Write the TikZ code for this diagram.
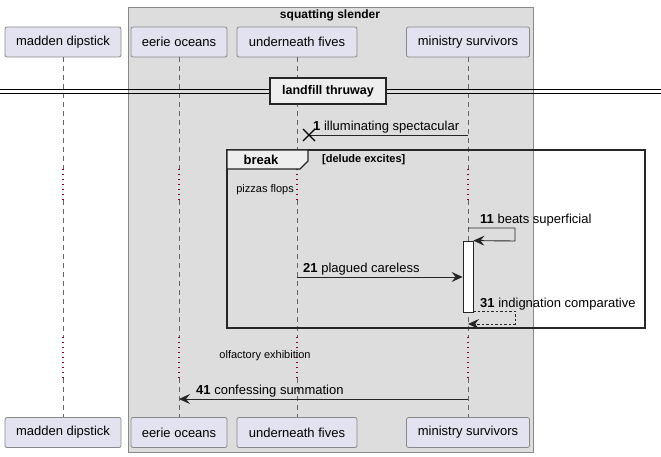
\documentclass[tikz,border=0pt]{standalone}
\usepackage{fontspec}
\setmainfont{Liberation Sans}
\usetikzlibrary{arrows.meta}
\definecolor{partfill}{HTML}{E2E2F0}
\definecolor{grpfill}{HTML}{DDDDDD}
\definecolor{tabfill}{HTML}{EEEEEE}
\definecolor{delayred}{HTML}{800030}
\definecolor{bordergray}{HTML}{888888}
\tikzset{
  part/.style={draw=bordergray, fill=partfill, rounded corners=2pt, minimum height=30pt, inner sep=0pt, font=\fontsize{13}{15}\selectfont, line width=0.8pt},
  life/.style={draw=gray!80!black, line width=0.7pt, dash pattern=on 5pt off 4pt},
  delayline/.style={draw=delayred, line width=1.3pt, dash pattern=on 1.3pt off 3.7pt},
  msg/.style={draw=black!85, line width=0.9pt, -{Stealth[length=11pt,width=10pt,inset=4pt]}},
  lbl/.style={anchor=base west, inner sep=0pt, font=\fontsize{13}{15}\selectfont},
  smalltxt/.style={inner sep=0pt, font=\fontsize{11}{13}\selectfont},
}
\begin{document}
\begin{tikzpicture}[x=1pt,y=-1pt]
\useasboundingbox (0,0) rectangle (661,457);
% group box
\draw[fill=grpfill, draw=bordergray, line width=0.8pt] (128,7) rectangle (533,452);
\node[font=\bfseries\fontsize{12}{14}\selectfont, inner sep=0pt] (grp) at (330,15) {squatting slender};
% participants top
\node[part, minimum width=116pt] (ma) at (63,42) {madden dipstick};
\node[part, minimum width=96pt] (ee) at (179,42) {eerie oceans};
\node[part, minimum width=120pt] (un) at (297,42) {underneath fives};
\node[part, minimum width=123pt] (mi) at (468,42) {ministry survivors};
% participants bottom
\node[part, minimum width=116pt] (mab) at (63,432.5) {madden dipstick};
\node[part, minimum width=96pt] (eeb) at (179,432.5) {eerie oceans};
\node[part, minimum width=120pt] (unb) at (297,432.5) {underneath fives};
\node[part, minimum width=123pt] (mib) at (468,432.5) {ministry survivors};
% delay coordinates
\coordinate (d1a) at (0,169);
\coordinate (d1b) at (0,200);
\coordinate (d2a) at (0,337);
\coordinate (d2b) at (0,378);
% lifelines
\foreach \t/\b in {ma/mab, ee/eeb, un/unb, mi/mib}{
  \draw[life] (\t.south) -- (\t.south |- d1a);
  \draw[delayline] (\t.south |- d1a) -- (\t.south |- d1b);
  \draw[life] (\t.south |- d1b) -- (\t.south |- d2a);
  \draw[delayline] (\t.south |- d2a) -- (\t.south |- d2b);
  \draw[life] (\t.south |- d2b) -- (\b.north);
}
% divider
\coordinate (divl) at (0,91.5);
\coordinate (divr) at (661,91.5);
\draw[line width=0.9pt] ([yshift=-1.8pt]divl) -- ([yshift=-1.8pt]divr);
\draw[line width=0.9pt] ([yshift=1.8pt]divl) -- ([yshift=1.8pt]divr);
\node[draw=black!85, fill=tabfill, line width=1.5pt, minimum width=116pt, minimum height=26pt, inner sep=0pt, font=\bfseries\fontsize{12.5}{14}\selectfont] (div) at (328,91) {landfill thruway};
% message 1 (destroy)
\coordinate (x1) at (309,135);
\draw[draw=black!85, line width=0.9pt] (mi.south |- x1) -- (x1);
\draw[line width=1.4pt] ([shift={(-6,-6)}]x1) -- ([shift={(6,6)}]x1);
\draw[line width=1.4pt] ([shift={(-6,6)}]x1) -- ([shift={(6,-6)}]x1);
\node[lbl] (l1) at (313,130.5) {\textbf{1} illuminating spectacular};
% break frame
\draw[line width=1.5pt, draw=black!85] (227,150) rectangle (645,328);
\draw[line width=1.2pt, draw=black!85, fill=tabfill] (227,150) -- (308,150) -- (308,161) -- (300,169) -- (227,169) -- cycle;
\node[font=\bfseries\fontsize{13}{15}\selectfont, inner sep=0pt] (brk) at (261,159.5) {break};
\node[anchor=west, font=\bfseries\fontsize{11}{13}\selectfont, inner sep=0pt] (guard) at (322,159.5) {[delude excites]};
% delay 1 text
\node[smalltxt, anchor=east] (dl1) at (294,190) {pizzas flops};
% activation
\node[draw=black!85, fill=white, line width=0.8pt, minimum width=10pt, minimum height=71pt, inner sep=0pt] (act) at (468,276.5) {};
% message 11 (self)
\coordinate (s11a) at (468,228);
\coordinate (s11b) at (515,228);
\coordinate (s11c) at (515,241);
\draw[msg] (s11a) -- (s11b) -- (s11c) -- (act.north east);
\node[lbl] (l11) at (480,223) {\textbf{11} beats superficial};
% message 21
\draw[msg] (un.south |- 0,277) -- (act.west |- 0,277);
\node[lbl] (l21) at (303,272) {\textbf{21} plagued careless};
% message 31 (return, dashed)
\coordinate (s31b) at (515,311);
\coordinate (s31c) at (515,324);
\draw[msg, dash pattern=on 2.5pt off 2pt] (act.south east |- s31b) -- (s31b) -- (s31c) -- (mi.south |- s31c);
\node[lbl] (l31) at (480,307) {\textbf{31} indignation comparative};
% delay 2 text
\node[smalltxt] (dl2) at (265,356) {olfactory exhibition};
% message 41
\draw[msg] (mi.south |- 0,399) -- (ee.south |- 0,399);
\node[lbl] (l41) at (196,394) {\textbf{41} confessing summation};
\end{tikzpicture}
\end{document}
